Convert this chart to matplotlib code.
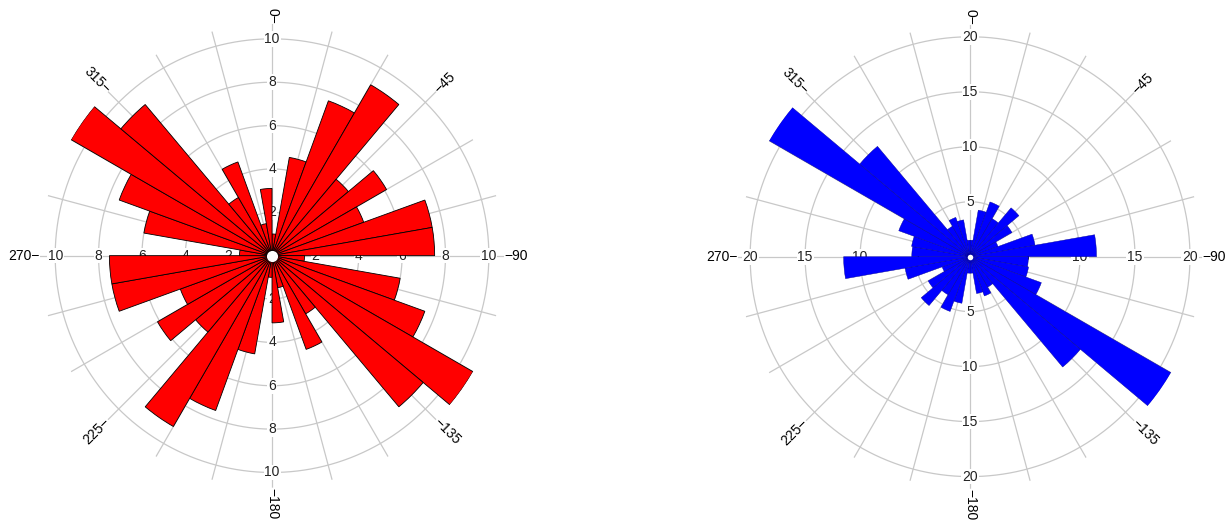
import numpy as np
import matplotlib
matplotlib.use("Agg")
import matplotlib.pyplot as plt

plt.rcParams['font.family'] = ['Liberation Sans', 'DejaVu Sans']

## 10 degree bins, clockwise from north
bin_edges_deg = np.arange(0, 360, 10)

## percentage of measurements per bin (left rose, red)
red_values = [1.0, 4.6, 7.6, 9.1, 4.6, 6.1, 4.5, 7.5, 7.5,
              1.5, 6.0, 7.5, 10.7, 9.1, 3.1, 4.6, 1.5, 3.1,
              1.0, 4.6, 7.6, 9.1, 4.6, 6.1, 4.5, 7.5, 7.5,
              1.5, 6.0, 7.5, 10.7, 9.1, 3.1, 4.6, 1.5, 3.1]
red_rings = [2, 4, 6, 8, 10]

## percentage of measurements per bin (right rose, blue)
blue_values = [1.5, 4.3, 5.3, 4.0, 5.8, 4.4, 2.7, 6.0, 11.5,
               5.3, 5.4, 6.9, 21.1, 13.1, 3.2, 3.8, 3.4, 1.5,
               1.5, 4.3, 5.3, 4.0, 5.8, 4.4, 2.7, 6.0, 11.5,
               5.3, 5.4, 6.9, 21.1, 13.1, 3.2, 3.8, 3.4, 1.5]
blue_rings = [5, 10, 15, 20]

compass_labels = [0, 45, 90, 135, 180, 225, 270, 315]

GRID = '#c8c8c8'
FS = 10


def rose(ax, values, rings, face, edge, lw, hole):
    ax.set_theta_zero_location('N')
    ax.set_theta_direction(-1)
    rmax = max(values)
    ax.set_ylim(0, rmax)
    ax.axis('off')

    # spokes every 15 degrees out to the longest petal
    for a in range(0, 360, 15):
        t = np.deg2rad(a)
        ax.plot([t, t], [0, rmax], color=GRID, lw=0.9, zorder=1)

    # rings
    circ = np.linspace(0, 2 * np.pi, 400)
    for r in rings:
        ax.plot(circ, np.full_like(circ, r), color=GRID, lw=0.9, zorder=1)

    # ring values along the four main axes
    for r in rings:
        for a in (0, 90, 180, 270):
            ax.text(np.deg2rad(a), r, str(r), ha='center', va='center',
                    fontsize=FS, color='#222222', zorder=2,
                    bbox=dict(fc='white', ec='none', pad=0.6))

    # petals
    theta = np.deg2rad(bin_edges_deg + 5)
    ax.bar(theta, values, width=np.deg2rad(10), bottom=0, color=face,
           edgecolor=edge, linewidth=lw, zorder=3)
    ax.plot([0], [0], 'o', color='white', ms=hole, mec='none', zorder=4)

    # compass labels with a tick mark pointing at the spoke end
    for a in compass_labels:
        t = np.deg2rad(a)
        if 0 < a <= 180:
            s, ha, rot = '\u2212' + str(a), 'left', 90 - a
        else:
            s, ha, rot = str(a) + '\u2212', 'right', (270 - a) if a else -90
        ax.text(t, rmax, s, ha=ha, va='center', rotation=rot,
                rotation_mode='anchor', fontsize=FS, color='black',
                clip_on=False, zorder=5)


fig = plt.figure(figsize=(12.27, 5.21), dpi=100)
ax1 = fig.add_axes([0.0326, 0.0640, 0.3782, 0.8906], projection='polar')
ax2 = fig.add_axes([0.6015, 0.0620, 0.3782, 0.8906], projection='polar')

rose(ax1, red_values, red_rings, '#ff0000', 'black', 0.6, 8)
rose(ax2, blue_values, blue_rings, '#0000ff', '#000090', 0.3, 4)

fig.savefig('out.png', dpi=100)
